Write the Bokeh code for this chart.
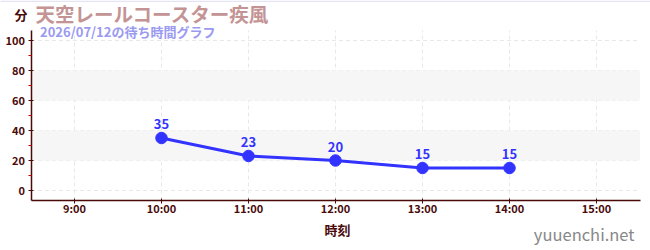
from bokeh.plotting import figure
from bokeh.models import Range1d, FixedTicker, BoxAnnotation, Label, ColumnDataSource
from bokeh.core.properties import value
from bokeh.embed import file_html
from bokeh.resources import INLINE

hours = [10, 11, 12, 13, 14]
waits = [35, 23, 20, 15, 15]
x_ticks = [9, 10, 11, 12, 13, 14, 15]
x_tick_labels = ["9:00", "10:00", "11:00", "12:00", "13:00", "14:00", "15:00"]
y_ticks = [0, 20, 40, 60, 80, 100]
y_minor = [10, 30, 50, 70, 90]
bands = [(20, 40), (60, 80)]
title = "天空レールコースター疾風"
subtitle = "2026/07/12の待ち時間グラフ"
y_unit = "分"
x_name = "時刻"
site = "yuuenchi.net"

FONT = "Noto Sans CJK JP"
AX = "#4a0a0a"
W, H = 650, 250
# plotting area extent (data units)
X0, X1 = 8.5, 15.5
Y0, Y1 = -6.667, 106.667

p = figure(width=W, height=H, output_backend="svg", toolbar_location=None,
           x_range=Range1d(9 - 74 / 87, 9 + (W - 74) / 87),
           y_range=Range1d(-60 / 1.5, 190 / 1.5),
           min_border=0, min_border_left=0, min_border_right=0,
           min_border_top=0, min_border_bottom=0)
p.outline_line_color = None
p.background_fill_color = "white"
p.border_fill_color = "white"
p.xgrid.visible = False
p.ygrid.visible = False

for b, t in bands:
    p.add_layout(BoxAnnotation(left=X0, right=X1, bottom=b, top=t, fill_color="#f6f6f6",
                               fill_alpha=1, line_color=None, level="underlay"))

# grid lines
p.segment(x0=x_ticks, x1=x_ticks, y0=[Y0] * len(x_ticks), y1=[Y1] * len(x_ticks),
          line_color="#e8e8e8", line_dash="4 3", line_width=1, level="underlay")
p.segment(x0=[X0] * len(y_ticks), x1=[X1] * len(y_ticks), y0=y_ticks, y1=y_ticks,
          line_color="#e8e8e8", line_dash="4 3", line_width=1, level="underlay")

xa = p.xaxis[0]
xa.ticker = FixedTicker(ticks=x_ticks)
xa.major_label_overrides = {t: l for t, l in zip(x_ticks, x_tick_labels)}
xa.fixed_location = Y0
xa.bounds = (X0, X1)
ya = p.yaxis[0]
ya.ticker = FixedTicker(ticks=y_ticks, minor_ticks=y_minor)
ya.fixed_location = X0
ya.bounds = (Y0, Y1)

for a in (xa, ya):
    a.axis_line_color = AX
    a.axis_line_width = 1.5
    a.major_tick_line_color = AX
    a.major_tick_in = 2
    a.major_tick_out = 3
    a.major_label_text_color = AX
    a.major_label_text_font = FONT
    a.major_label_text_font_style = "bold"
    a.major_label_text_font_size = "11px"
xa.minor_tick_line_color = None
ya.minor_tick_line_color = "#cc0000"
ya.minor_tick_in = 0
ya.minor_tick_out = 3
xa.major_label_standoff = -4
ya.major_label_standoff = 3

src = ColumnDataSource(dict(x=hours, y=waits, t=[str(v) for v in waits]))
p.line("x", "y", source=src, line_color="#3333ff", line_width=3)
p.scatter("x", "y", source=src, size=11.5, fill_color="#3333ff", line_color="#3333ff")
p.text("x", "y", text="t", source=src, text_color="#3333ff", text_font_size="13px",
       text_font_style="bold", text_align="center", text_baseline="bottom", y_offset=-9,
       text_font=value(FONT))

def lab(cx, cy, text, **kw):
    p.add_layout(Label(x=cx, y=H - cy, x_units="screen", y_units="screen", text=text,
                       text_font=FONT, text_baseline="middle", **kw))

p.add_layout(BoxAnnotation(left=0, right=W, bottom=H - 1.5, top=H, left_units="screen",
                           right_units="screen", bottom_units="screen", top_units="screen",
                           fill_color="#e4e4f6", fill_alpha=1, line_color=None))
lab(20.5, 14, y_unit, text_color=AX, text_font_style="bold", text_font_size="13px", text_align="center")
lab(35, 12.5, title, text_color="#c49494", text_font_style="bold", text_font_size="19.5px")
lab(39.5, 30.5, subtitle, text_color="#9a9af0", text_font_style="bold", text_font_size="13px")
lab(337, 229, x_name, text_color=AX, text_font_style="bold", text_font_size="13px", text_align="center")
lab(634, 233, site, text_color="#888888", text_font_size="16.5px", text_align="right")

open("out.html", "w").write(file_html(p, INLINE))
